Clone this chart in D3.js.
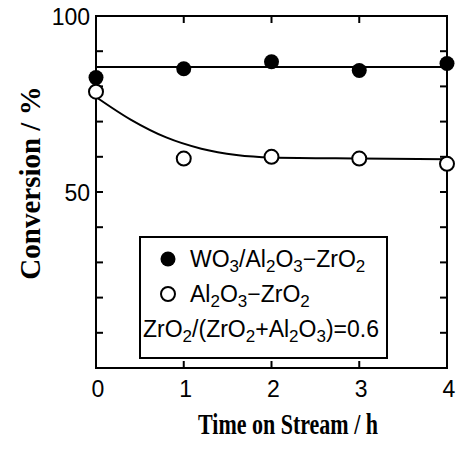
<!DOCTYPE html>
<html>
<head>
<meta charset="utf-8">
<script src="https://cdn.jsdelivr.net/npm/d3@7"></script>
<style>
  body { margin: 0; background: #fff; }
  svg { display: block; }
</style>
</head>
<body>
<div class="chart"></div>
<script>
const times = [0, 1, 2, 3, 4];
const wo3Values = [82.5, 85, 87, 84.5, 86.5];
const alValues = [78.5, 59.5, 60, 59.5, 58];
// drawn guide curves
const wo3FitTimes = [0, 4];
const wo3FitValues = [85.5, 85.5];
const alFitTimes = [0, 0.4, 0.8, 1.2, 1.6, 2, 3, 4];
const alFitValues = [77, 70.5, 65.5, 62.3, 60.5, 59.8, 59.5, 59.3];
const xTicks = [0, 1, 2, 3, 4];
const yLabelTicks = [50, 100];
const yMinorTicks = [10, 20, 30, 40, 50, 60, 70, 80, 90];
const legendLabels = ["WO_3/Al_2O_3\u2212ZrO_2", "Al_2O_3\u2212ZrO_2"];
const noteLabel = "ZrO_2/(ZrO_2+Al_2O_3)=0.6";

const width = 459, height = 452;
const sans = "'Liberation Sans', Arial, sans-serif";
const serif = "'Liberation Serif', 'Times New Roman', serif";

const svg = d3.select(".chart").append("svg")
    .attr("width", width)
    .attr("height", height);

const x = d3.scaleLinear().domain([0, 4]).range([96, 447]);
const y = d3.scaleLinear().domain([0, 100]).range([368, 16]);

// frame
svg.append("rect")
    .attr("x", x(0)).attr("y", y(100))
    .attr("width", x(4) - x(0)).attr("height", y(0) - y(100))
    .attr("fill", "none").attr("stroke", "#000").attr("stroke-width", 2);

// inward ticks
const tk = 7;
svg.append("g").selectAll("line")
    .data(yMinorTicks).join("line")
    .attr("x1", x(0)).attr("x2", x(0) + tk)
    .attr("y1", d => y(d)).attr("y2", d => y(d));
svg.append("g").selectAll("line")
    .data(yMinorTicks).join("line")
    .attr("x1", x(4)).attr("x2", x(4) - tk)
    .attr("y1", d => y(d)).attr("y2", d => y(d));
svg.append("g").selectAll("line")
    .data([1, 2, 3]).join("line")
    .attr("x1", d => x(d)).attr("x2", d => x(d))
    .attr("y1", y(0)).attr("y2", y(0) - tk);
svg.append("g").selectAll("line")
    .data([1, 2, 3]).join("line")
    .attr("x1", d => x(d)).attr("x2", d => x(d))
    .attr("y1", y(100)).attr("y2", y(100) + tk);
svg.selectAll("g line").attr("stroke", "#000").attr("stroke-width", 2);

// tick labels
svg.append("g").selectAll("text")
    .data(yLabelTicks).join("text")
    .attr("x", x(0) - 6)
    .attr("y", d => y(d) + 3)
    .attr("text-anchor", "end")
    .attr("dominant-baseline", "middle")
    .style("font-family", sans).style("font-size", "23px")
    .text(d => d);

svg.append("g").selectAll("text")
    .data(xTicks).join("text")
    .attr("x", d => x(d) + 2)
    .attr("y", 397)
    .attr("text-anchor", "middle")
    .style("font-family", sans).style("font-size", "23px")
    .text(d => d);

// axis titles
svg.append("text")
    .attr("transform", "translate(40,183) rotate(-90)")
    .attr("text-anchor", "middle")
    .style("font-family", serif).style("font-size", "29px").style("font-weight", "bold")
    .text("Conversion / %");

svg.append("text")
    .attr("x", 198).attr("y", 434)
    .attr("textLength", 180).attr("lengthAdjust", "spacingAndGlyphs")
    .style("font-family", serif).style("font-size", "30px").style("font-weight", "bold")
    .text("Time on Stream / h");

// curves
const line = d3.line().x(d => x(d[0])).y(d => y(d[1]));
svg.append("path")
    .attr("d", line(d3.zip(wo3FitTimes, wo3FitValues)))
    .attr("fill", "none").attr("stroke", "#000").attr("stroke-width", 2);
svg.append("path")
    .attr("d", line.curve(d3.curveMonotoneX)(d3.zip(alFitTimes, alFitValues)))
    .attr("fill", "none").attr("stroke", "#000").attr("stroke-width", 2);

// markers
svg.append("g").selectAll("circle")
    .data(d3.zip(times, alValues)).join("circle")
    .attr("cx", d => x(d[0])).attr("cy", d => y(d[1])).attr("r", 7)
    .attr("fill", "#fff").attr("stroke", "#000").attr("stroke-width", 2);
svg.append("g").selectAll("circle")
    .data(d3.zip(times, wo3Values)).join("circle")
    .attr("cx", d => x(d[0])).attr("cy", d => y(d[1])).attr("r", 7.5)
    .attr("fill", "#000");

// legend
const legend = svg.append("g");
legend.append("rect")
    .attr("x", 140).attr("y", 237).attr("width", 247).attr("height", 121)
    .attr("fill", "#fff").attr("stroke", "#000").attr("stroke-width", 2);

// "_3" -> subscript 3
function subText(sel, str) {
    let shifted = false;
    str.split(/(_\d)/).filter(s => s).forEach(s => {
        const sub = s[0] === "_";
        const ts = sel.append("tspan").text(sub ? s[1] : s);
        if (sub) {
            ts.attr("dy", 5).style("font-size", "17px");
            shifted = true;
        } else if (shifted) {
            ts.attr("dy", -5);
            shifted = false;
        }
    });
}

const rowsY = [259, 294, 329];
legend.append("circle").attr("cx", 168).attr("cy", rowsY[0]).attr("r", 7.5).attr("fill", "#000");
legend.append("circle").attr("cx", 168).attr("cy", rowsY[1]).attr("r", 7)
    .attr("fill", "#fff").attr("stroke", "#000").attr("stroke-width", 2);

legendLabels.forEach((lab, i) => {
    const t = legend.append("text")
        .attr("x", 190).attr("y", rowsY[i] + 8)
        .style("font-family", sans).style("font-size", "23px");
    subText(t, lab);
});
const note = legend.append("text")
    .attr("x", 143).attr("y", rowsY[2] + 8)
    .style("font-family", sans).style("font-size", "23px");
subText(note, noteLabel);
</script>
</body>
</html>
